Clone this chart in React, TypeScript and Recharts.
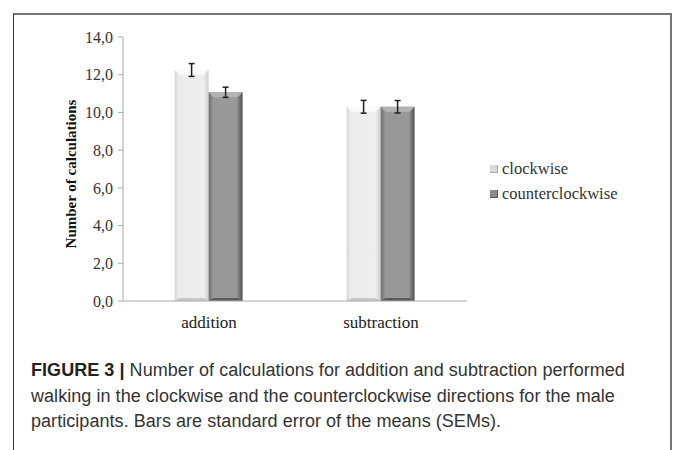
import React from "react";
import {
  BarChart,
  Bar,
  XAxis,
  YAxis,
  ErrorBar,
} from "recharts";

// values
const categories = ["addition", "subtraction"];
const clockwise = [12.25, 10.3];
const counterclockwise = [11.07, 10.3];
const clockwiseSem = [0.34, 0.34];
const counterclockwiseSem = [0.27, 0.33];
const yTicks = [0, 2, 4, 6, 8, 10, 12, 14];

const data = categories.map((name, i) => ({
  name,
  clockwise: clockwise[i],
  counterclockwise: counterclockwise[i],
  cwErr: clockwiseSem[i],
  ccwErr: counterclockwiseSem[i],
}));

const serif = "'Liberation Serif', 'Times New Roman', serif";
const sans = "'Liberation Sans', Arial, Helvetica, sans-serif";

// bevelled 3D-ish bar like the excel original
const BevelBar = (props: any) => {
  const { x, y, width, height, gid, top, bottom } = props;
  if (!height || height <= 0) return null;
  const b = 5;
  return (
    <g>
      <rect x={x} y={y} width={width} height={height} fill={`url(#${gid})`} />
      <polygon
        points={`${x},${y} ${x + width},${y} ${x + width - b},${y + b} ${x + b},${y + b}`}
        fill={top}
      />
      <polygon
        points={`${x + b},${y + height - 3} ${x + width - b},${y + height - 3} ${x + width},${y + height} ${x},${y + height}`}
        fill={bottom}
      />
    </g>
  );
};

const legendItems = [
  { label: "clockwise", color: "#d9d9d9", edge: "#aaa" },
  { label: "counterclockwise", color: "#8c8c8c", edge: "#555" },
];

const YLabel = () => (
  <text
    x={71}
    y={174}
    transform="rotate(-90, 71, 174)"
    textAnchor="middle"
    dominantBaseline="central"
    fontFamily={serif}
    fontWeight="bold"
    fontSize={15}
    fill="#111"
  >
    Number of calculations
  </text>
);

export default function App() {
  return (
    <div
      style={{
        position: "absolute",
        left: 0,
        top: 0,
        width: 674,
        height: 450,
        overflow: "hidden",
        background: "#fff",
      }}
    >
      <div
        style={{
          position: "absolute",
          left: 13,
          top: 13,
          width: 656,
          height: 470,
          borderTop: "2px solid #777",
          borderRight: "2px solid #777",
          borderLeft: "1.5px solid #333",
        }}
      />
      <div style={{ position: "absolute", left: 0, top: 0 }}>
        <BarChart
          width={674}
          height={340}
          data={data}
          margin={{ top: 37, right: 207, bottom: 9, left: 63 }}
          barCategoryGap="30%"
          barGap={0}
        >
          <defs>
            <linearGradient id="gCw" x1="0" y1="0" x2="1" y2="0">
              <stop offset="0" stopColor="#d6d6d6" />
              <stop offset="0.12" stopColor="#ececec" />
              <stop offset="0.85" stopColor="#eeeeee" />
              <stop offset="1" stopColor="#cfcfcf" />
            </linearGradient>
            <linearGradient id="gCcw" x1="0" y1="0" x2="1" y2="0">
              <stop offset="0" stopColor="#6e6e6e" />
              <stop offset="0.14" stopColor="#979797" />
              <stop offset="0.82" stopColor="#999999" />
              <stop offset="1" stopColor="#4f4f4f" />
            </linearGradient>
          </defs>
          <XAxis
            dataKey="name"
            axisLine={{ stroke: "#aaa" }}
            tickLine={false}
            height={30}
            tick={{ fontFamily: serif, fontSize: 17, fill: "#222", dy: 7 }}
          />
          <YAxis
            width={60}
            domain={[0, 14]}
            ticks={yTicks}
            interval={0}
            axisLine={{ stroke: "#aaa" }}
            tickLine={{ stroke: "#aaa" }}
            tickSize={5}
            tickFormatter={(v: number) => v.toFixed(1).replace(".", ",")}
            tick={{ fontFamily: serif, fontSize: 16, fill: "#333", dx: -3 }}
            label={<YLabel />}
          />
          <Bar
            dataKey="clockwise"
            isAnimationActive={false}
            shape={(p: any) => (
              <BevelBar {...p} gid="gCw" top="#fafafa" bottom="#c8c8c8" />
            )}
          >
            <ErrorBar
              dataKey="cwErr"
              width={3}
              stroke="#222"
              strokeWidth={1.5}
              isAnimationActive={false}
            />
          </Bar>
          <Bar
            dataKey="counterclockwise"
            isAnimationActive={false}
            shape={(p: any) => (
              <BevelBar {...p} gid="gCcw" top="#b3b3b3" bottom="#5a5a5a" />
            )}
          >
            <ErrorBar
              dataKey="ccwErr"
              width={3}
              stroke="#222"
              strokeWidth={1.5}
              isAnimationActive={false}
            />
          </Bar>
        </BarChart>
      </div>
      <div
        style={{
          position: "absolute",
          left: 490,
          top: 156,
          fontFamily: serif,
          fontSize: 16.5,
          color: "#333",
        }}
      >
        {legendItems.map((it) => (
          <div
            key={it.label}
            style={{ display: "flex", alignItems: "center", height: 25 }}
          >
            <span
              style={{
                display: "inline-block",
                width: 7,
                height: 7,
                background: it.color,
                borderRight: `1px solid ${it.edge}`,
                borderBottom: `1px solid ${it.edge}`,
                marginRight: 4,
              }}
            />
            {it.label}
          </div>
        ))}
      </div>
      <div
        style={{
          position: "absolute",
          left: 31,
          top: 358,
          width: 608,
          fontFamily: sans,
          fontSize: 18,
          letterSpacing: "0.05px",
          lineHeight: "25.5px",
          color: "#333",
        }}
      >
        <b style={{ color: "#222" }}>FIGURE 3 |</b> Number of calculations for
        addition and subtraction performed walking in the clockwise and the
        counterclockwise directions for the male participants. Bars are
        standard error of the means (SEMs).
      </div>
    </div>
  );
}
